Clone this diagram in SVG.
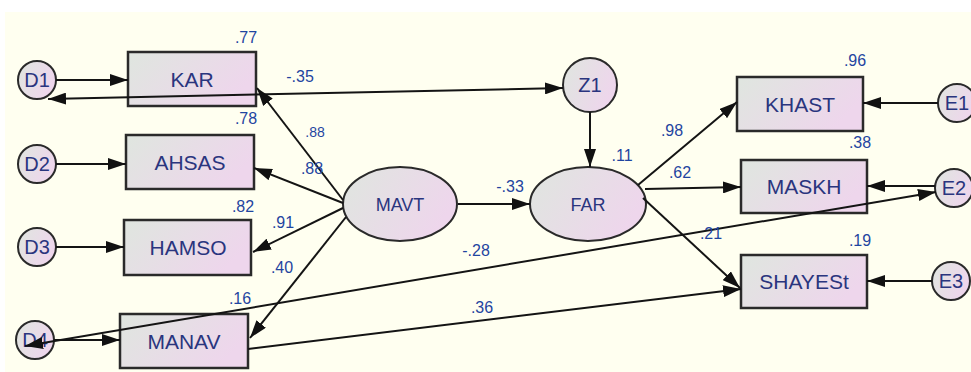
<svg xmlns="http://www.w3.org/2000/svg" width="971" height="372" viewBox="0 0 971 372">
  <defs>
    <linearGradient id="fillGrad" x1="0" y1="0" x2="1" y2="0.4">
      <stop offset="0" stop-color="#dfe6df"/>
      <stop offset="1" stop-color="#eed6ec"/>
    </linearGradient>
    <marker id="arrow" viewBox="0 0 18 12" refX="18" refY="6" markerWidth="18" markerHeight="12" markerUnits="userSpaceOnUse" orient="auto-start-reverse">
      <path d="M0,0 L18,6 L0,12 z" fill="#111"/>
    </marker>
    <style>
      .box { fill: url(#fillGrad); stroke: #2a2a2a; stroke-width: 2.5; }
      .ell { fill: url(#fillGrad); stroke: #2a2a2a; stroke-width: 2; }
      .name { font-family: "Liberation Sans", Arial, sans-serif; font-size: 20px; fill: #2a357e; text-anchor: middle; }
      .obs { font-size: 21px; }
      .num { font-family: "Liberation Sans", Arial, sans-serif; font-size: 16px; fill: #1f45a0; text-anchor: middle; }
      .small { font-size: 14px; }
      .link { stroke: #141414; stroke-width: 2; fill: none; marker-end: url(#arrow); }
      .cov { marker-start: url(#arrow); }
    </style>
  </defs>

  <!-- canvas -->
  <rect x="0" y="0" width="971" height="372" fill="#ffffff"/>
  <rect x="5" y="12" width="966" height="360" fill="#fffff0"/>

  <!-- error terms -->
  <g id="D1"><circle class="ell" cx="37" cy="80" r="19"/><text class="name" x="37" y="87">D1</text></g>
  <g id="D2"><circle class="ell" cx="37" cy="164" r="19"/><text class="name" x="37" y="171">D2</text></g>
  <g id="D3"><circle class="ell" cx="37" cy="247" r="19"/><text class="name" x="37" y="254">D3</text></g>
  <g id="D4"><circle class="ell" cx="35" cy="340" r="19"/><text class="name" x="35" y="347">D4</text></g>
  <g id="Z1"><circle class="ell" cx="590" cy="85" r="27"/><text class="name" x="590" y="92">Z1</text></g>
  <g id="E1"><circle class="ell" cx="957" cy="103" r="19"/><text class="name" x="957" y="110">E1</text></g>
  <g id="E2"><circle class="ell" cx="954" cy="188" r="19"/><text class="name" x="954" y="195">E2</text></g>
  <g id="E3"><circle class="ell" cx="951" cy="281" r="19"/><text class="name" x="951" y="288">E3</text></g>

  <!-- observed variables -->
  <g id="KAR"><rect class="box" x="128" y="52" width="128" height="54"/><text class="name obs" x="192" y="87">KAR</text></g>
  <g id="AHSAS"><rect class="box" x="126" y="135" width="128" height="54"/><text class="name obs" x="190" y="170">AHSAS</text></g>
  <g id="HAMSO"><rect class="box" x="124" y="220" width="127" height="55"/><text class="name obs" x="188" y="255">HAMSO</text></g>
  <g id="MANAV"><rect class="box" x="120" y="314" width="128" height="54"/><text class="name obs" x="184" y="349">MANAV</text></g>
  <g id="KHAST"><rect class="box" x="737" y="77" width="126" height="54"/><text class="name obs" x="800" y="112">KHAST</text></g>
  <g id="MASKH"><rect class="box" x="741" y="160" width="126" height="53"/><text class="name obs" x="804" y="194">MASKH</text></g>
  <g id="SHAYESt"><rect class="box" x="741" y="255" width="126" height="53"/><text class="name obs" x="804" y="289">SHAYESt</text></g>

  <!-- latent variables -->
  <g id="MAVT"><ellipse class="ell" cx="400" cy="204" rx="57" ry="37"/><text class="name" x="400" y="211" style="font-size:18px">MAVT</text></g>
  <g id="FAR"><ellipse class="ell" cx="588" cy="204" rx="58" ry="37"/><text class="name" x="588" y="211" style="font-size:18px">FAR</text></g>

  <!-- connectors, drawn over the nodes -->
  <g id="connectors">
    <line class="link" x1="56" y1="80" x2="128" y2="80"/>
    <line class="link" x1="56" y1="164" x2="126" y2="164"/>
    <line class="link" x1="56" y1="247" x2="124" y2="247"/>
    <line class="link" x1="54" y1="340" x2="120" y2="340"/>
    <line class="link cov" x1="48" y1="99" x2="563" y2="88"/>
    <line class="link" x1="343" y1="200" x2="257" y2="88"/>
    <line class="link" x1="343" y1="203" x2="254" y2="168"/>
    <line class="link" x1="343" y1="208" x2="253" y2="252"/>
    <line class="link" x1="346" y1="217" x2="250" y2="338"/>
    <line class="link" x1="458" y1="204" x2="530" y2="204"/>
    <line class="link" x1="590" y1="112" x2="590" y2="167"/>
    <line class="link" x1="638" y1="185" x2="737" y2="102"/>
    <line class="link" x1="645" y1="189" x2="741" y2="187"/>
    <line class="link" x1="643" y1="198" x2="740" y2="288"/>
    <line class="link" x1="248" y1="349" x2="741" y2="289"/>
    <line class="link cov" x1="25" y1="346" x2="936" y2="192"/>
    <line class="link" x1="938" y1="103" x2="863" y2="103"/>
    <line class="link" x1="935" y1="186" x2="867" y2="186"/>
    <line class="link" x1="932" y1="281" x2="867" y2="281"/>
  </g>

  <!-- path and correlation values -->
  <g id="estimates">
    <text class="num" x="246" y="43">.77</text>
    <text class="num" x="246" y="124">.78</text>
    <text class="num" x="243" y="212">.82</text>
    <text class="num" x="283" y="228">.91</text>
    <text class="num" x="282" y="273">.40</text>
    <text class="num" x="240" y="304">.16</text>
    <text class="num" x="300" y="82">-.35</text>
    <text class="num small" x="315" y="137">.88</text>
    <text class="num" x="312" y="174">.88</text>
    <text class="num" x="510" y="192">-.33</text>
    <text class="num" x="622" y="161">.11</text>
    <text class="num" x="672" y="136">.98</text>
    <text class="num" x="680" y="178">.62</text>
    <text class="num" x="855" y="66">.96</text>
    <text class="num" x="860" y="148">.38</text>
    <text class="num" x="711" y="239">.21</text>
    <text class="num" x="860" y="246">.19</text>
    <text class="num" x="476" y="256">-.28</text>
    <text class="num" x="482" y="313">.36</text>
  </g>
</svg>
